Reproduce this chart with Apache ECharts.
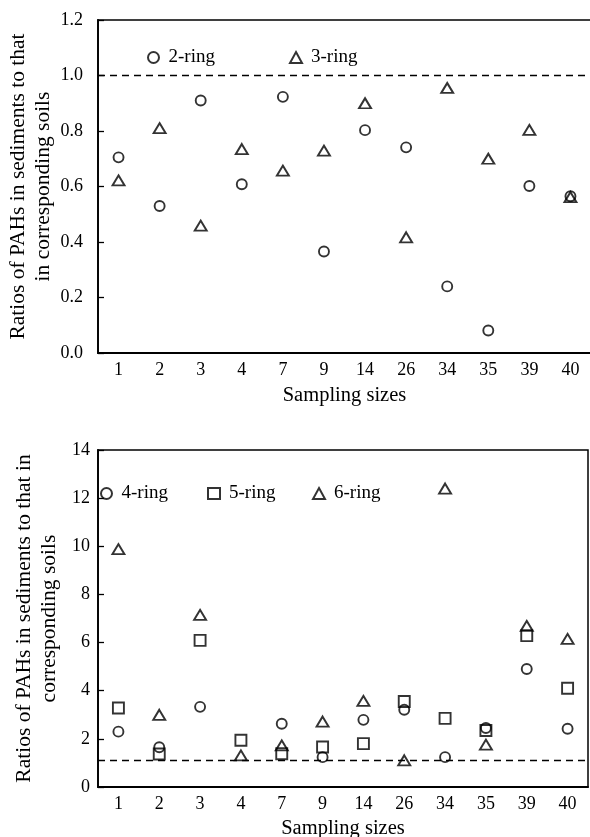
<!DOCTYPE html>
<html>
<head>
<meta charset="utf-8">
<script src="https://cdn.jsdelivr.net/npm/echarts@6/dist/echarts.min.js"></script>
<style>
  html, body { margin: 0; padding: 0; background: #fff; }
  #chart { width: 590px; height: 837px; }
</style>
</head>
<body>
<div id="chart"></div>
<script>
// sampling sizes (shared by both panels)
const sizes = ["1", "2", "3", "4", "7", "9", "14", "26", "34", "35", "39", "40"];

// upper panel: 2- and 3-ring
const ring2 = [0.705, 0.53, 0.91, 0.608, 0.923, 0.366, 0.803, 0.741, 0.24, 0.081, 0.602, 0.565];
const ring3 = [0.622, 0.81, 0.459, 0.735, 0.657, 0.729, 0.90, 0.417, 0.955, 0.70, 0.804, 0.562];

// lower panel: 4-, 5- and 6-ring
const ring4 = [2.30, 1.65, 3.33, null, 2.63, 1.24, 2.79, 3.21, 1.24, 2.45, 4.90, 2.42];
const ring5 = [3.28, 1.37, 6.09, 1.94, 1.38, 1.66, 1.80, 3.55, 2.85, 2.35, 6.29, 4.10];
const ring6 = [9.88, 3.00, 7.15, 1.31, 1.73, 2.72, 3.58, 1.11, 12.4, 1.76, 6.69, 6.15];

const refTop = 1.0;
const refBottom = 1.1;

const font = "Liberation Serif";
const black = "#000";

function markStyle(symbol, size) {
  return {
    type: "scatter",
    symbol: symbol,
    symbolSize: size,
    itemStyle: { color: "rgba(0,0,0,0)", borderColor: black, borderWidth: 1.9 },
    emphasis: { disabled: true },
  };
}

function refLine(value) {
  return {
    silent: true,
    symbol: "none",
    label: { show: false },
    lineStyle: { color: black, type: [7, 5], width: 1.4 },
    data: [{ yAxis: value }],
  };
}

function xAxis(gridIndex, gap) {
  return {
    type: "category",
    gridIndex,
    data: sizes,
    boundaryGap: true,
    name: "Sampling sizes",
    nameLocation: "middle",
    nameGap: gap,
    nameMoveOverlap: false,
    nameTextStyle: { fontFamily: font, fontSize: 20.5, color: black },
    axisLine: { lineStyle: { color: black, width: 1.8 } },
    axisTick: { inside: true, length: 7, lineStyle: { color: black, width: 1.3 } },
    axisLabel: { fontFamily: font, fontSize: 18, color: black, margin: 8 },
    splitLine: { show: false },
  };
}

// one legend per entry so each can sit where the original puts it
function legend(name, left, top) {
  return {
    data: [name],
    left, top,
    itemWidth: 12,
    itemHeight: 11,
    itemGap: 0,
    selectedMode: false,
    textStyle: { fontFamily: font, fontSize: 19, color: black, padding: [0, 0, 0, 4] },
  };
}

function yName(text, gap) {
  return {
    name: text,
    nameLocation: "middle",
    nameGap: gap,
    nameMoveOverlap: false,
    nameTextStyle: { fontFamily: font, fontSize: 21.5, color: black, lineHeight: 25 },
  };
}

const yLine = {
  axisLine: { show: true, lineStyle: { color: black, width: 1.8 } },
  axisTick: { show: true, inside: true, length: 6, lineStyle: { color: black, width: 1.3 } },
  splitLine: { show: false },
};

const chart = echarts.init(document.getElementById("chart"));

chart.setOption({
  animation: false,
  grid: [
    { left: 98, top: 20, width: 493, height: 333, outerBoundsMode: "none", containLabel: false,
      show: true, borderColor: black, borderWidth: 1.5 },
    { left: 98, top: 450, width: 490, height: 337, outerBoundsMode: "none", containLabel: false,
      show: true, borderColor: black, borderWidth: 1.5 },
  ],
  legend: [
    legend("2-ring", 142, 43),
    legend("3-ring", 284, 43),
    legend("4-ring", 95, 479),
    legend("5-ring", 202, 479),
    legend("6-ring", 307, 479),
  ],
  xAxis: [xAxis(0, 32), xAxis(1, 31)],
  yAxis: [
    Object.assign({
      type: "value",
      gridIndex: 0,
      min: 0, max: 1.2, interval: 0.2,
      axisLabel: { fontFamily: font, fontSize: 18, color: black, margin: 15, formatter: (v) => v.toFixed(1) },
    }, yLine, yName("Ratios of PAHs in sediments to that\nin corresponding soils", 42)),
    Object.assign({
      type: "value",
      gridIndex: 1,
      min: 0, max: 14, interval: 2,
      axisLabel: { fontFamily: font, fontSize: 18, color: black, margin: 8 },
    }, yLine, yName("Ratios of PAHs in sediments to that in\ncorresponding soils", 36)),
  ],
  series: [
    Object.assign(markStyle("circle", 10), { name: "2-ring", xAxisIndex: 0, yAxisIndex: 0, data: ring2, markLine: refLine(refTop) }),
    Object.assign(markStyle("triangle", [12, 10]), { name: "3-ring", xAxisIndex: 0, yAxisIndex: 0, data: ring3 }),
    Object.assign(markStyle("circle", 10), { name: "4-ring", xAxisIndex: 1, yAxisIndex: 1, data: ring4, markLine: refLine(refBottom) }),
    Object.assign(markStyle("rect", 11), { name: "5-ring", xAxisIndex: 1, yAxisIndex: 1, data: ring5 }),
    Object.assign(markStyle("triangle", [12, 10]), { name: "6-ring", xAxisIndex: 1, yAxisIndex: 1, data: ring6 }),
  ],
});
</script>
</body>
</html>
